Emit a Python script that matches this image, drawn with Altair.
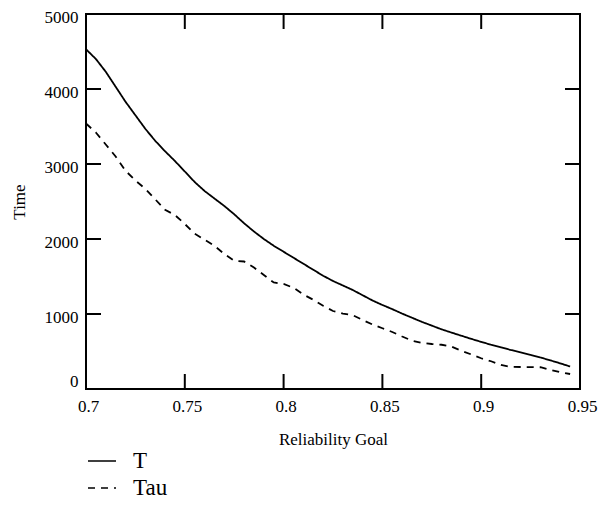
import altair as alt
import pandas as pd

# Reliability goal grid
goal = [
    0.700, 0.705, 0.710, 0.715, 0.720, 0.725, 0.730, 0.735, 0.740, 0.745,
    0.750, 0.755, 0.760, 0.765, 0.770, 0.775, 0.780, 0.785, 0.790, 0.795,
    0.800, 0.805, 0.810, 0.815, 0.820, 0.825, 0.830, 0.835, 0.840, 0.845,
    0.850, 0.855, 0.860, 0.865, 0.870, 0.875, 0.880, 0.885, 0.890, 0.895,
    0.900, 0.905, 0.910, 0.915, 0.920, 0.925, 0.930, 0.935, 0.940, 0.945,
]

# Time for T
time_T = [
    4530, 4400, 4230, 4030, 3830, 3650, 3470, 3310, 3170, 3040,
    2900, 2760, 2640, 2540, 2440, 2330, 2210, 2100, 2000, 1910,
    1830, 1750, 1670, 1590, 1510, 1440, 1380, 1320, 1250, 1180,
    1120, 1065, 1005, 950, 895, 845, 795, 752, 710, 668,
    628, 590, 555, 520, 488, 455, 420, 382, 342, 300,
]

# Time for Tau
time_Tau = [
    3540, 3420, 3260, 3100, 2910, 2780, 2670, 2530, 2390, 2320,
    2200, 2070, 1990, 1910, 1800, 1710, 1700, 1620, 1520, 1420,
    1400, 1350, 1260, 1190, 1110, 1040, 1005, 985, 920, 860,
    810, 760, 700, 645, 615, 600, 590, 565, 510, 460,
    410, 370, 320, 295, 293, 293, 290, 255, 225, 200,
]

series_names = ["T", "Tau"]
x_label_values = [0.7, 0.75, 0.8, 0.85, 0.9, 0.95]
y_label_values = [0, 1000, 2000, 3000, 4000, 5000]
x_tick_values = [0.75, 0.8, 0.85, 0.9]
y_tick_values = [1000, 2000, 3000, 4000]
x_edges = [0.7, 0.95]
y_edges = [0, 5000]

FONT = "'Liberation Serif', 'Times New Roman', serif"

n = len(goal)
curves = pd.DataFrame({
    "goal": goal * 2,
    "time": time_T + time_Tau,
    "series": [series_names[0]] * n + [series_names[1]] * n,
})

x_enc = alt.X(
    "goal:Q",
    title="Reliability Goal",
    scale=alt.Scale(domain=x_edges, nice=False, zero=False),
    axis=alt.Axis(
        values=x_label_values,
        format=".2~f",
        domain=False,
        ticks=False,
        grid=False,
        labelFont=FONT,
        labelFontSize=17,
        labelColor="black",
        labelPadding=9,
        labelOffset=2,
        labelFlush=False,
        titleFont=FONT,
        titleFontSize=17,
        titleFontWeight="normal",
        titleColor="black",
        titleX=247,
        titleY=50,
        titleAlign="center",
        titleBaseline="middle",
    ),
)

y_enc = alt.Y(
    "time:Q",
    title="Time",
    scale=alt.Scale(domain=y_edges, nice=False),
    axis=alt.Axis(
        values=y_label_values,
        format="d",
        domain=False,
        ticks=False,
        grid=False,
        labelFont=FONT,
        labelFontSize=17,
        labelColor="black",
        labelPadding=8,
        labelFlush=False,
        labelOffset={"condition": {"test": "datum.value === 0", "value": -8}, "value": 3},
        titleFont=FONT,
        titleFontSize=17,
        titleFontWeight="normal",
        titleColor="black",
        titleAngle=270,
        titleX=-67,
        titleY=187.5,
        titleAlign="center",
        titleBaseline="middle",
    ),
)

lines = alt.Chart(curves).mark_line(color="black", strokeWidth=1.8).encode(
    x=x_enc,
    y=y_enc,
    strokeDash=alt.StrokeDash(
        "series:N",
        scale=alt.Scale(domain=series_names, range=[[1, 0], [7, 6]]),
        legend=alt.Legend(
            title=None,
            orient="none",
            legendX=1,
            legendY=432,
            symbolType="stroke",
            symbolSize=784,
            symbolStrokeWidth=1.5,
            symbolStrokeColor="black",
            labelFont=FONT,
            labelFontSize=23,
            labelColor="black",
            labelOffset=16,
            rowPadding=0,
        ),
    ),
)

# inward tick marks on all four sides, clipped to the frame
x_ticks = pd.DataFrame({
    "goal": x_tick_values * 2,
    "time": [y_edges[0]] * len(x_tick_values) + [y_edges[1]] * len(x_tick_values),
})
y_ticks = pd.DataFrame({
    "goal": [x_edges[0]] * len(y_tick_values) + [x_edges[1]] * len(y_tick_values),
    "time": y_tick_values * 2,
})

x_tick_layer = alt.Chart(x_ticks).mark_tick(
    orient="vertical", size=30, thickness=2, color="black", opacity=1, clip=True
).encode(x=x_enc, y=y_enc)

y_tick_layer = alt.Chart(y_ticks).mark_tick(
    orient="horizontal", size=30, thickness=2, color="black", opacity=1, clip=True
).encode(x=x_enc, y=y_enc)

chart = alt.layer(lines, x_tick_layer, y_tick_layer).properties(
    width=494,
    height=375,
    autosize="none",
    padding={"left": 86, "top": 14, "right": 20, "bottom": 117},
    background="white",
).configure(font=FONT).configure_view(stroke="black", strokeWidth=2)

chart.save("out.html", embed_options={"renderer": "svg", "actions": False})
